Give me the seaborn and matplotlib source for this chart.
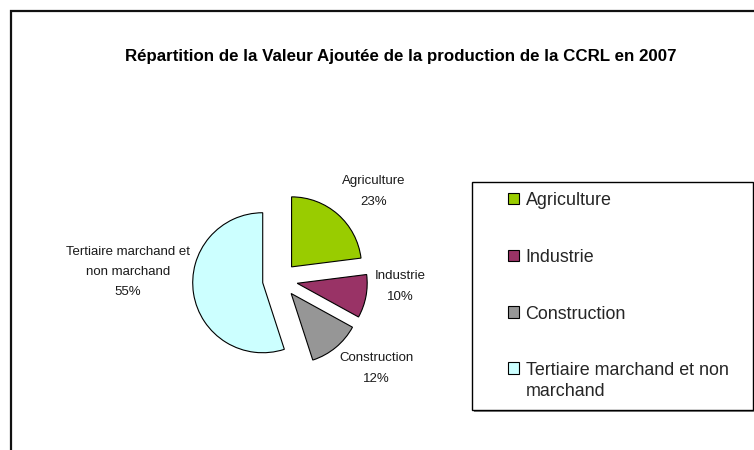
import matplotlib
matplotlib.use("Agg")
import matplotlib.pyplot as plt
import seaborn as sns
import numpy as np
from matplotlib.patches import Rectangle

# Data
categories = ["Agriculture", "Industrie", "Construction", "Tertiaire marchand et non marchand"]
shares = [23, 10, 12, 55]
slice_labels = ["Agriculture", "Industrie", "Construction", "Tertiaire marchand et\nnon marchand"]
legend_labels = ["Agriculture", "Industrie", "Construction", "Tertiaire marchand et non\nmarchand"]
title = "Répartition de la Valeur Ajoutée de la production de la CCRL en 2007"

# Style
colors = ["#99CC00", "#993366", "#969696", "#CCFFFF"]
explode = [0.25, 0.25, 0.25, 0.25]
label_dist = [1.59, 1.47, 1.62, 1.93]
label_turn = [-6, 9, 9, -13.5]  # degrees, nudges label off the wedge bisector

sns.set_style("white")
plt.rcParams["font.family"] = ["Liberation Sans", "DejaVu Sans"]

W, H = 754, 450
fig = plt.figure(figsize=(W / 100, H / 100), dpi=100)
fig.patch.set_facecolor("white")

R = 70          # pie radius in pixels
cx, cy = 280, 280  # pie centre in pixels from top-left
ax = fig.add_axes([0, 0, 1, 1])

wedges, _ = ax.pie(
    shares,
    colors=colors,
    startangle=90,
    counterclock=False,
    explode=explode,
    radius=1,
    center=(0, 0),
    wedgeprops=dict(edgecolor="black", linewidth=0.8),
    frame=False,
)
ax.set_xlim(-cx / R, (W - cx) / R)
ax.set_ylim((cy - H) / R, cy / R)
ax.set_aspect("equal")
ax.axis("off")

total = sum(shares)
for w, lab, v, d, t in zip(wedges, slice_labels, shares, label_dist, label_turn):
    mid = np.deg2rad((w.theta1 + w.theta2) / 2 + t)
    x0, y0 = w.center
    ax.text(x0 + d * np.cos(mid), y0 + d * np.sin(mid),
            f"{lab}\n{round(v / total * 100)}%",
            ha="center", va="center", fontsize=9.5, linespacing=1.9,
            color="#1a1a1a")

fig.text(401 / W, 1 - 57 / H, title, ha="center", va="center",
         fontsize=12.2, fontweight="bold", color="black")

leg = fig.legend(
    wedges, legend_labels,
    loc="upper left", bbox_to_anchor=(508 / W, 1 - 192 / H),
    frameon=False, fontsize=12.9,
    handlelength=0.62, handleheight=0.62, handletextpad=0.36,
    labelspacing=2.22, borderpad=0, borderaxespad=0,
)
for txt in leg.get_texts():
    txt.set_linespacing(1.3)
# keep the marker square level with the first line of a wrapped entry
try:
    rows = [r for col in leg._legend_handle_box.get_children() for r in col.get_children()]
    rows[-1].align = "top"
except AttributeError:
    pass

# Legend box (with a soft shadow) and chart area border
fig.patches.append(Rectangle((474 / W, 1 - 412 / H), (753 - 472) / W, (410 - 182) / H,
                             transform=fig.transFigure, fill=True,
                             facecolor="#808080", edgecolor="none", zorder=0))
fig.patches.append(Rectangle((472 / W, 1 - 410 / H), (753 - 472) / W, (410 - 182) / H,
                             transform=fig.transFigure, fill=True, facecolor="white",
                             edgecolor="black", linewidth=1.0, zorder=0.5))
fig.patches.append(Rectangle((11 / W, -0.1), 1.2, 1.1 - 11.5 / H,
                             transform=fig.transFigure, fill=False,
                             edgecolor="#111111", linewidth=1.6, clip_on=False))

fig.savefig("out.png", dpi=100)
